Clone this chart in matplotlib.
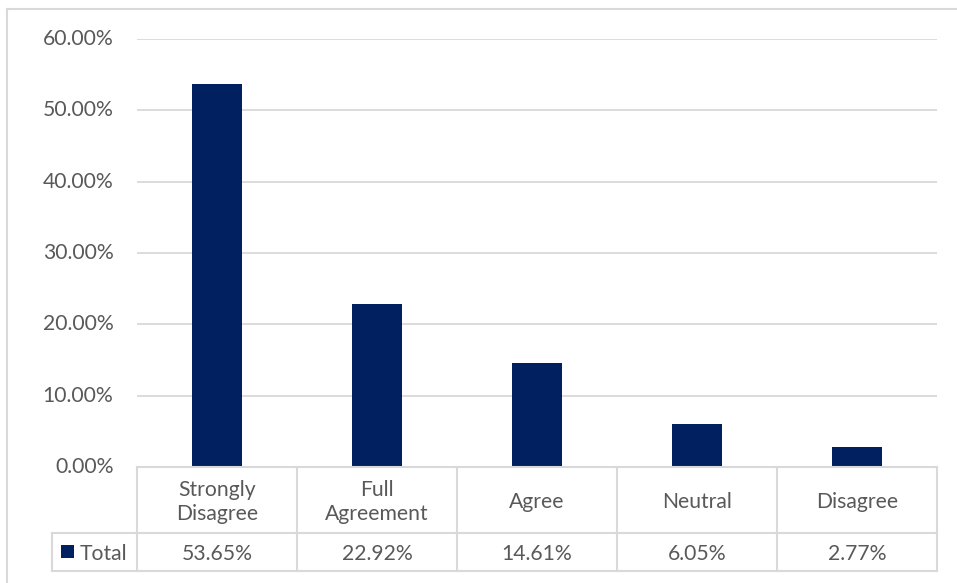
import matplotlib
matplotlib.use("Agg")
import matplotlib.pyplot as plt
from matplotlib.patches import Rectangle
from matplotlib.lines import Line2D
from matplotlib.ticker import FuncFormatter, MultipleLocator

categories = ["Strongly\nDisagree", "Full\nAgreement", "Agree", "Neutral", "Disagree"]
values = [53.65, 22.92, 14.61, 6.05, 2.77]
series_name = "Total"
value_labels = ["53.65%", "22.92%", "14.61%", "6.05%", "2.77%"]

W, H = 957, 583
BAR = "#002060"
TXT = "#595959"
GRID = "#d9d9d9"
FONT = ["Lato", "DejaVu Sans"]
FS = 15.2
plt.rcParams["font.family"] = FONT

fig = plt.figure(figsize=(W / 100, H / 100), dpi=100)
fig.patch.set_facecolor("white")

def fx(px):
    return px / W

def fy(py):
    return 1 - py / H

# plot area
x0, x1, ytop, ybot = 137, 937, 39, 467
ax = fig.add_axes([fx(x0), fy(ybot), fx(x1) - fx(x0), fy(ytop) - fy(ybot)])
xs = list(range(len(categories)))
ax.bar(xs, values, width=0.31, color=BAR, zorder=3)
ax.set_xlim(-0.5, len(categories) - 0.5)
ax.set_ylim(0, 60)
ax.yaxis.set_major_locator(MultipleLocator(10))
ax.yaxis.set_major_formatter(FuncFormatter(lambda v, p: f"{v:.2f}%"))
ax.grid(axis="y", color=GRID, linewidth=1.3, zorder=0)
for s in ax.spines.values():
    s.set_visible(False)
ax.tick_params(axis="y", length=0, pad=17, labelsize=FS, labelcolor=TXT)
ax.tick_params(axis="x", length=0, labelbottom=False)
for lbl in ax.get_yticklabels():
    lbl.set_verticalalignment("center")

# table
row1_bot, row2_bot = 533, 571
leg_left = 52
col_w = (x1 - x0) / len(categories)
tl = dict(color=GRID, linewidth=1.5, transform=fig.transFigure)
fig.add_artist(Line2D([fx(x0), fx(x1)], [fy(ybot), fy(ybot)], **tl))
fig.add_artist(Line2D([fx(leg_left), fx(x1)], [fy(row1_bot), fy(row1_bot)], **tl))
fig.add_artist(Line2D([fx(leg_left), fx(x1)], [fy(row2_bot), fy(row2_bot)], **tl))
fig.add_artist(Line2D([fx(leg_left), fx(leg_left)], [fy(row1_bot), fy(row2_bot)], **tl))
for i in range(len(categories) + 1):
    xp = x0 + i * col_w
    fig.add_artist(Line2D([fx(xp), fx(xp)], [fy(ybot), fy(row2_bot)], **tl))

for i, (c, v) in enumerate(zip(categories, value_labels)):
    cx = x0 + (i + 0.5) * col_w
    fig.text(fx(cx), fy((ybot + row1_bot) / 2 + 2), c, ha="center", va="center",
             fontsize=FS, color=TXT, linespacing=1.3)
    fig.text(fx(cx), fy((row1_bot + row2_bot) / 2 + 1.5), v, ha="center", va="center",
             fontsize=FS, color=TXT)

# legend key in table
fig.add_artist(Rectangle((fx(61), fy(558)), fx(13), fy(545) - fy(558),
                         transform=fig.transFigure, facecolor=BAR, edgecolor="none"))
fig.text(fx(80), fy((row1_bot + row2_bot) / 2 + 1.5), series_name, ha="left", va="center",
         fontsize=FS, color=TXT)

# outer chart border
fig.add_artist(Line2D([fx(7), fx(W + 5)], [fy(9), fy(9)], color=GRID, linewidth=1.5,
                      transform=fig.transFigure))
fig.add_artist(Line2D([fx(7), fx(7)], [fy(9), fy(H + 5)], color=GRID, linewidth=1.5,
                      transform=fig.transFigure))

fig.savefig("out.png", dpi=100, facecolor="white")
